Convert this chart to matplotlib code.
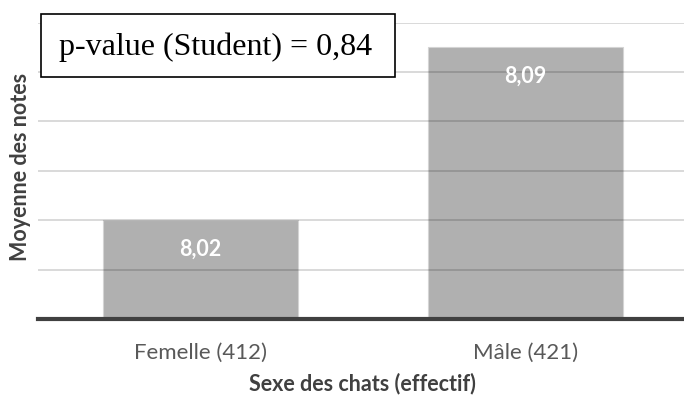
import matplotlib
matplotlib.use("Agg")
import matplotlib.pyplot as plt
from matplotlib.patches import Rectangle
import numpy as np

# Mean grade per cat sex
categories = ["Femelle (412)", "Mâle (421)"]
means = [8.02, 8.09]
value_labels = ["8,02", "8,09"]
pvalue_text = "p-value (Student) = 0,84"
xlabel = "Sexe des chats (effectif)"
ylabel = "Moyenne des notes"

sans = ["Lato", "DejaVu Sans"]
serif = ["Liberation Serif", "DejaVu Serif"]

fig = plt.figure(figsize=(6.84, 3.96), dpi=100)
W, H = 684, 396
left_px, right_px, bottom_px, top_px = 38, 688, 319, 22.6
ax = fig.add_axes([left_px / W, 1 - bottom_px / H,
                   (right_px - left_px) / W, (bottom_px - top_px) / H])

x = np.arange(len(categories))
ymin, ymax, step = 7.98, 8.10, 0.02

bars = ax.bar(x, means, width=0.6, color="#b0b0b0", edgecolor="#d4d4d4",
              linewidth=0.8, zorder=2)

# horizontal gridlines, drawn over the bars with transparency
for yv in np.arange(ymin + step, ymax + step / 2, step):
    ax.axhline(yv, color="black", alpha=0.15, linewidth=1.4, zorder=3)

ax.axhline(ymin, color="#404040", linewidth=3, zorder=4, clip_on=False)

ax.set_xlim(-0.5, 1.5)
ax.set_ylim(ymin, ymax)
for s in ax.spines.values():
    s.set_visible(False)
ax.set_yticks([])
ax.set_xticks(x)
ax.set_xticklabels(categories, fontsize=16, color="#595959", family=sans)
ax.tick_params(axis="x", length=0, pad=17)

for xi, m, lab in zip(x, means, value_labels):
    ax.annotate(lab, (xi, m), xytext=(0, -21), textcoords="offset points",
                ha="center", va="center", color="white", fontsize=15.5,
                fontweight="bold", family=sans, zorder=5)

fig.text(362 / W, 1 - 384 / H, xlabel, ha="center", va="center",
         fontsize=15.5, fontweight="bold", color="#404040", family=sans)
fig.text(21 / W, 1 - 167 / H, ylabel, ha="center", va="center", rotation=90,
         fontsize=15.5, fontweight="bold", color="#404040", family=sans)

# boxed annotation with the test result
fig.patches.append(Rectangle((41 / W, 1 - 77 / H), (395 - 41) / W, 63 / H,
                             transform=fig.transFigure, facecolor="white",
                             edgecolor="black", linewidth=1.2, zorder=10))
fig.text(216 / W, 1 - 47 / H, pvalue_text, ha="center", va="center",
         fontsize=23, family=serif, color="black", zorder=11)

fig.savefig("out.png", dpi=100)
